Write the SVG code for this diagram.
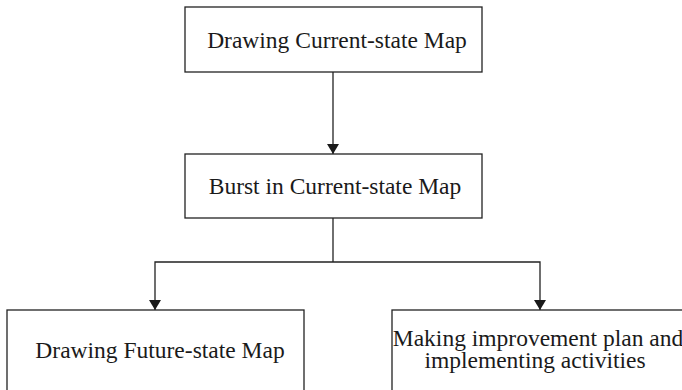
<svg xmlns="http://www.w3.org/2000/svg" width="682" height="390" viewBox="0 0 682 390">
  <style>
    .box { fill: #ffffff; stroke: #222222; stroke-width: 1.3; }
    .label { font-family: "Liberation Serif", "Times New Roman", serif; font-size: 23.5px; fill: #1a1a1a; text-anchor: middle; }
    .link { fill: none; stroke: #222222; stroke-width: 1.3; }
  </style>
  <defs>
    <marker id="arrow" viewBox="0 0 10 12" refX="10" refY="6" markerWidth="10" markerHeight="12" markerUnits="userSpaceOnUse" orient="auto">
      <path d="M0,0 L10,6 L0,12 Z" fill="#1a1a1a" transform="rotate(0)"/>
    </marker>
  </defs>
  <rect width="682" height="390" fill="#ffffff"/>

  <g id="connectors">
    <path class="link" d="M333,72 V154" marker-end="url(#arrow)"/>
    <path class="link" d="M333,218 V262"/>
    <path class="link" d="M333,262 H155 V310" marker-end="url(#arrow)"/>
    <path class="link" d="M333,262 H540 V310" marker-end="url(#arrow)"/>
  </g>

  <g id="current-state">
    <rect class="box" x="185" y="7" width="297" height="65"/>
    <text class="label" x="337" y="48">Drawing Current-state Map</text>
  </g>

  <g id="burst">
    <rect class="box" x="185" y="154" width="297" height="64"/>
    <text class="label" x="335" y="194">Burst in Current-state Map</text>
  </g>

  <g id="future-state">
    <rect class="box" x="7" y="310" width="297" height="100"/>
    <text class="label" x="160" y="358">Drawing Future-state Map</text>
  </g>

  <g id="improvement-plan">
    <rect class="box" x="392" y="310" width="297" height="100"/>
    <text class="label" x="538" y="346">Making improvement plan and</text>
    <text class="label" x="535" y="368">implementing activities</text>
  </g>
</svg>
